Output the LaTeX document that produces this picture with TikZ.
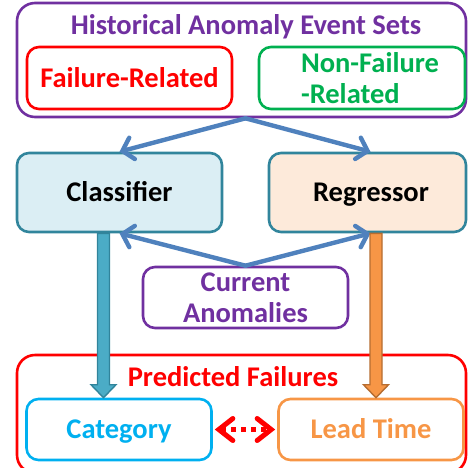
\documentclass[tikz,border=0pt]{standalone}
\usepackage{fontspec}
\setmainfont{Carlito}
\usetikzlibrary{arrows.meta,calc}

\definecolor{cpurple}{HTML}{7030A0}
\definecolor{cred}{HTML}{FF0000}
\definecolor{cgreen}{HTML}{00B050}
\definecolor{carrow}{HTML}{4F81BD}
\definecolor{cteal}{HTML}{31859C}
\definecolor{cclsfill}{HTML}{DBEEF4}
\definecolor{cregfill}{HTML}{FDEADA}
\definecolor{cbluefill}{HTML}{4BACC6}
\definecolor{cbluedraw}{HTML}{31849B}
\definecolor{corange}{HTML}{F79646}
\definecolor{corangedraw}{HTML}{B66D31}
\definecolor{ccyan}{HTML}{00B0F0}

\tikzset{
  box/.style={draw, line width=2.6pt, rounded corners=12pt, inner sep=0pt,
    font=\fontsize{28.5}{31}\selectfont\bfseries, align=center},
  oneline/.style={text height=25.5pt, text depth=7pt},
  group/.style={draw, line width=2.6pt, rounded corners=18pt, inner sep=0pt},
  title/.style={font=\fontsize{28.5}{31}\selectfont\bfseries, inner sep=0pt},
  feed/.style={draw=carrow, line width=4.4pt, line cap=round,
    -{Straight Barb[length=10pt,width=22pt,line cap=round]}},
  link/.style={draw=cred, line width=5pt, dash pattern=on 5pt off 5pt,
    {Straight Barb[length=14pt,width=22pt,line cap=round]}-{Straight Barb[length=14pt,width=22pt,line cap=round]}},
  fatblue/.style={fill=cbluefill, draw=cbluedraw, line width=1.4pt, line join=miter},
  fatorange/.style={fill=corange, draw=corangedraw, line width=1.4pt, line join=miter},
}

\begin{document}
\begin{tikzpicture}[x=1pt, y=-1pt]
\useasboundingbox (0,0) rectangle (468,467);
\clip (0,0) rectangle (468,467);

% historical event sets
\node[group, draw=cpurple, minimum width=449pt, minimum height=114pt] (hist) at (241.5,60) {};
\node[title, text=cpurple] (histt) at (246,27) {Historical Anomaly Event Sets};
\node[box, oneline, draw=cred, text=cred, minimum width=205pt, minimum height=62pt] (fail) at (129.5,78) {Failure-Related};
\node[box, draw=cgreen, text=cgreen, minimum width=206pt, minimum height=62pt, align=left] (nonfail) at (362,78)
  {\hspace*{16pt}Non-Failure\\\hspace*{16pt}-Related};

% models
\node[box, oneline, draw=cteal, fill=cclsfill, text=black, minimum width=205pt, minimum height=79pt] (cls) at (119.5,192.5) {Classifier};
\node[box, oneline, draw=cteal, fill=cregfill, text=black, minimum width=197pt, minimum height=79pt] (reg) at (367.5,192.5) {\hspace*{7pt}Regressor};

% current anomalies
\node[box, draw=cpurple, text=cpurple, minimum width=205pt, minimum height=61pt] (cur) at (245.5,297.5) {Current\\Anomalies};

% predicted failures
\node[group, draw=cred, minimum width=449pt, minimum height=118pt] (pred) at (241.5,414) {};
\node[title, text=cred] (predt) at (233,377) {Predicted Failures};
\node[box, oneline, draw=ccyan, text=ccyan, minimum width=185pt, minimum height=61pt] (cat) at (119,429.5) {Category};
\node[box, oneline, draw=corange, text=corange, minimum width=185pt, minimum height=61pt] (lt) at (371,429.5) {Lead Time};

% thin feed arrows
\draw[feed] ([xshift=4pt]hist.south) -- (cls.north);
\draw[feed] ([xshift=4pt]hist.south) -- ([xshift=3pt]reg.north);
\draw[feed] (cur.north) -- (cls.south);
\draw[feed] (cur.north) -- ([xshift=3pt]reg.south);

% fat output arrows
\coordinate (ca1) at ([xshift=-16pt]cls.south);
\coordinate (ca2) at (ca1 |- cat.north);
\coordinate (ra1) at ([xshift=8.5pt]reg.south);
\coordinate (ra2) at (ra1 |- lt.north);
\draw[fatblue] ($(ca1)+(-6,0)$) -- ($(ca2)+(-6,-13)$) -- ($(ca2)+(-12.5,-13)$) -- (ca2)
  -- ($(ca2)+(12.5,-13)$) -- ($(ca2)+(6,-13)$) -- ($(ca1)+(6,0)$) -- cycle;
\draw[fatorange] ($(ra1)+(-6,0)$) -- ($(ra2)+(-6,-13)$) -- ($(ra2)+(-12.5,-13)$) -- (ra2)
  -- ($(ra2)+(12.5,-13)$) -- ($(ra2)+(6,-13)$) -- ($(ra1)+(6,0)$) -- cycle;

% category <-> lead time
\draw[link] ([xshift=2pt]cat.east) -- ([xshift=-2pt]lt.west);
\end{tikzpicture}
\end{document}
